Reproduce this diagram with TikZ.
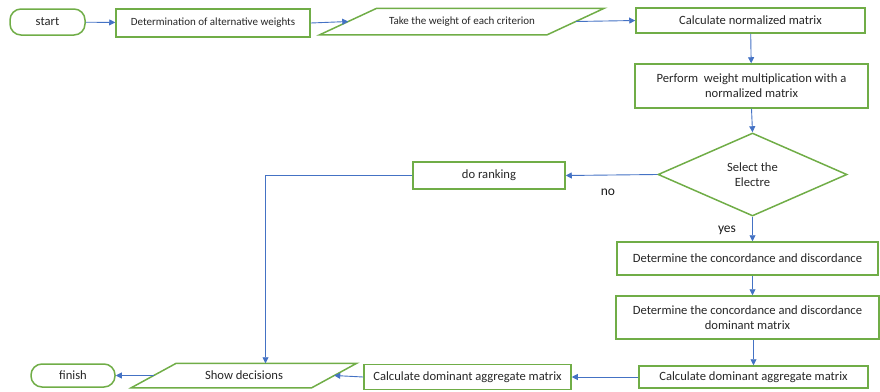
\documentclass[tikz,border=0pt]{standalone}
\usepackage{fontspec}
\setmainfont{Carlito}
\usetikzlibrary{shapes.geometric,
	arrows.meta,
	calc}
\definecolor{boxgreen}{RGB}{112,173,71}
\definecolor{linkblue}{RGB}{68,114,196}
\tikzstyle{proc}=[draw=boxgreen, line width=1.5pt, rectangle, inner sep=0, align=center, text=black!85, font=\fontsize{12.6}{15}\selectfont]
\tikzstyle{term}=[proc, rounded corners=11pt]
\tikzstyle{io}=[proc, draw=none]
\tikzstyle{frame}=[draw=boxgreen, line width=1.5pt]
\tikzstyle{choice}=[proc, diamond, aspect=2.3]
\tikzstyle{small}=[font=\fontsize{11}{13}\selectfont]
\tikzstyle{link}=[draw=linkblue, line width=0.9pt, -{Triangle[length=6pt,width=6pt]}]
\tikzstyle{lbl}=[inner sep=0, text=black!90, font=\fontsize{13.5}{15}\selectfont]
% parallelogram outline round the body of an io node
\newcommand{\slantframe}[2]{\draw[frame] ($(#1.south west)+(-#2,0)$) -- ($(#1.north west)+(#2,0)$) -- ($(#1.north east)+(#2,0)$) -- ($(#1.south east)+(-#2,0)$) -- cycle;}

\begin{document}
\begin{tikzpicture}[x=1pt,y=-1pt]
                \useasboundingbox (0,0) rectangle (880,391);
                % top row
                \node[term, minimum width=75pt, minimum height=26pt] (start) at (47.5,22) {start};
                \node[proc, small, minimum width=194pt, minimum height=28pt] (weights) at (213,23) {Determination of alternative weights};
                \node[io, small, minimum width=226pt, minimum height=25pt] (criterion) at (462,21.5) {Take the weight of each criterion};
                \slantframe{criterion}{28.5}
                \node[proc, minimum width=229pt, minimum height=25pt] (normal) at (750.5,20.5) {Calculate normalized matrix};
                % right column
                \node[proc, minimum width=233pt, minimum height=44pt] (multiply) at (751.5,86) {Perform\ \ weight multiplication with a\\normalized matrix};
                \node[choice, minimum width=189pt, minimum height=83pt] (electre) at (752.5,174.5) {Select the\\Electre};
                \node[proc, minimum width=152pt, minimum height=27pt] (ranking) at (489,175.5) {do ranking};
                \node[proc, minimum width=261pt, minimum height=33pt] (concord) at (747.5,258.5) {Determine the concordance and discordance};
                \node[proc, minimum width=263pt, minimum height=43pt] (dominant) at (747.5,317.5) {Determine the concordance and discordance\\dominant matrix};
                % bottom row
                \node[proc, minimum width=229pt, minimum height=22pt] (aggright) at (753.5,377) {Calculate dominant aggregate matrix};
                \node[proc, minimum width=207pt, minimum height=25pt] (aggleft) at (467.5,377) {Calculate dominant aggregate matrix};
                \node[io, minimum width=179pt, minimum height=23pt] (decide) at (244,375.5) {Show decisions};
                \slantframe{decide}{22.5}
                \node[term, minimum width=84pt, minimum height=23pt] (finish) at (73,375.5) {finish};
                % labels
                \node[lbl] (lblno) at (608,192) {no};
                \node[lbl] (lblyes) at (727,230) {yes};
                \coordinate (turn) at (265.5,175.5);
                % connectors
                \draw[link] (start) -- (weights);
                \draw[link] (weights.east) -- (criterion.west);
                \draw[link] (criterion.east) -- (normal.west);
                \draw[link] (normal) -- (multiply);
                \draw[link] (multiply.south) -- (electre.north);
                \draw[link] (electre.west) -- (ranking.east);
                \draw[link] (electre.south) -- (concord.north -| electre.south);
                \draw[link] (concord.south -| electre.south) -- (dominant.north -| electre.south);
                \draw[link] (dominant.south -| aggright.north) -- (aggright.north);
                \draw[link] (aggright) -- (aggleft);
                \draw[link] (aggleft.west) -- (decide.east);
                \draw[link] (decide.west) -- (finish.east);
                \draw[link] (ranking.west) -- (turn) -- (turn |- decide.north);
\end{tikzpicture}
\end{document}
